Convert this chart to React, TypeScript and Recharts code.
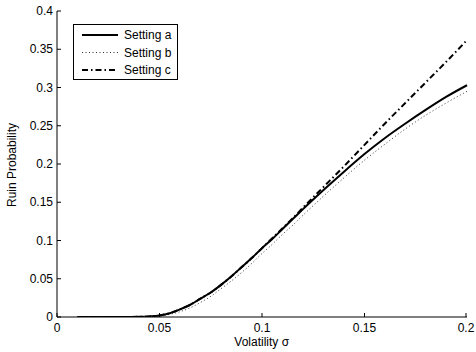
import React from 'react';
import { LineChart, Line, XAxis, YAxis, Legend } from 'recharts';

const sigma = [0.01, 0.02, 0.03, 0.04, 0.045, 0.05, 0.055, 0.06, 0.065, 0.07, 0.075, 0.08, 0.085, 0.09, 0.095, 0.1, 0.105, 0.11, 0.115, 0.12, 0.13, 0.14, 0.15, 0.16, 0.17, 0.18, 0.19, 0.2];
const settingA = [0, 0, 0, 0.0002, 0.0008, 0.002, 0.005, 0.010, 0.016, 0.024, 0.032, 0.042, 0.053, 0.065, 0.077, 0.090, 0.102, 0.115, 0.128, 0.141, 0.166, 0.190, 0.213, 0.234, 0.253, 0.271, 0.288, 0.303];
const settingB = [0, 0, 0, 0.0001, 0.0004, 0.0012, 0.0035, 0.007, 0.012, 0.019, 0.027, 0.037, 0.047, 0.058, 0.070, 0.083, 0.095, 0.108, 0.120, 0.133, 0.158, 0.182, 0.205, 0.226, 0.246, 0.264, 0.280, 0.295];
const settingC = [0, 0, 0, 0.0002, 0.0008, 0.002, 0.005, 0.010, 0.016, 0.024, 0.032, 0.042, 0.053, 0.065, 0.077, 0.090, 0.103, 0.116, 0.129, 0.143, 0.170, 0.197, 0.225, 0.253, 0.280, 0.307, 0.334, 0.362];
const xTicks = [0, 0.05, 0.1, 0.15, 0.2];
const yTicks = [0, 0.05, 0.1, 0.15, 0.2, 0.25, 0.3, 0.35, 0.4];
const seriesNames = ['Setting a', 'Setting b', 'Setting c'];

const data = sigma.map((s, i) => ({ s, a: settingA[i], b: settingB[i], c: settingC[i] }));

const FONT = 'Liberation Sans, Arial, sans-serif';

const XTick = (props: any) => {
  const { x, y, payload } = props;
  return (
    <g>
      <line x1={x} x2={x} y1={y} y2={y - 4} stroke="#000" strokeWidth={1} />
      <text x={x} y={y + 15} textAnchor="middle" fontSize={12} fontFamily={FONT} fill="#000">
        {String(payload.value)}
      </text>
    </g>
  );
};

const YTick = (props: any) => {
  const { x, y, payload } = props;
  return (
    <g>
      <line x1={x} x2={x + 4} y1={y} y2={y} stroke="#000" strokeWidth={1} />
      <text x={x - 4} y={y} dy="0.35em" textAnchor="end" fontSize={12} fontFamily={FONT} fill="#000">
        {String(payload.value)}
      </text>
    </g>
  );
};

const styles = [
  { w: 2, dash: undefined as string | undefined, color: '#000' },
  { w: 1, dash: '1 2.5', color: '#333' },
  { w: 2, dash: '6 3 1.5 3', color: '#000' },
];

const renderLegend = () => (
  <svg width={105} height={56} style={{ display: 'block' }}>
    <rect x={0.5} y={0.5} width={104} height={55} fill="#fff" stroke="#000" strokeWidth={1} />
    {seriesNames.map((n, i) => (
      <g key={n}>
        <line x1={9} x2={45} y1={11 + i * 17.5} y2={11 + i * 17.5} stroke={styles[i].color} strokeWidth={styles[i].w} strokeDasharray={styles[i].dash} />
        <text x={51} y={11 + i * 17.5} dy="0.35em" fontSize={12} fontFamily={FONT} fill="#000">{n}</text>
      </g>
    ))}
  </svg>
);

export default function App() {
  return (
    <div style={{ position: 'absolute', left: 0, top: 0, width: 476, height: 352, background: '#fff' }}>
      <LineChart width={476} height={352} data={data} margin={{ top: 11, right: 9, bottom: 15, left: 7 }}>
        <XAxis
          dataKey="s"
          type="number"
          domain={[0, 0.2]}
          ticks={xTicks}
          tickLine={false}
          tickSize={0}
          tickMargin={0}
          tick={<XTick />}
          height={20}
          stroke="#000"
          axisLine={{ stroke: '#000', strokeWidth: 1 }}
        />
        <YAxis
          type="number"
          domain={[0, 0.4]}
          ticks={yTicks}
          tickLine={false}
          tickSize={0}
          tickMargin={0}
          tick={<YTick />}
          width={50}
          stroke="#000"
          axisLine={{ stroke: '#000', strokeWidth: 1 }}
          allowDataOverflow
        />
        <Legend layout="horizontal" verticalAlign="middle" align="center" content={renderLegend}
          wrapperStyle={{ position: 'absolute', top: 24, left: 73, width: 105, height: 56 }} />
        <Line dataKey="a" name={seriesNames[0]} type="monotone" stroke="#000" strokeWidth={2} dot={false} isAnimationActive={false} />
        <Line dataKey="b" name={seriesNames[1]} type="monotone" stroke="#333" strokeWidth={1} strokeDasharray="1 2.5" dot={false} isAnimationActive={false} />
        <Line dataKey="c" name={seriesNames[2]} type="monotone" stroke="#000" strokeWidth={2} strokeDasharray="6 3 1.5 3" dot={false} isAnimationActive={false} />
        <text x={261.7} y={346} textAnchor="middle" fontSize={12} fontFamily={FONT} fill="#000">Volatility σ</text>
        <text x={12} y={165} transform="rotate(-90 12 165)" dy="0.35em" textAnchor="middle" fontSize={12} fontFamily={FONT} fill="#000">Ruin Probability</text>
      </LineChart>
    </div>
  );
}
